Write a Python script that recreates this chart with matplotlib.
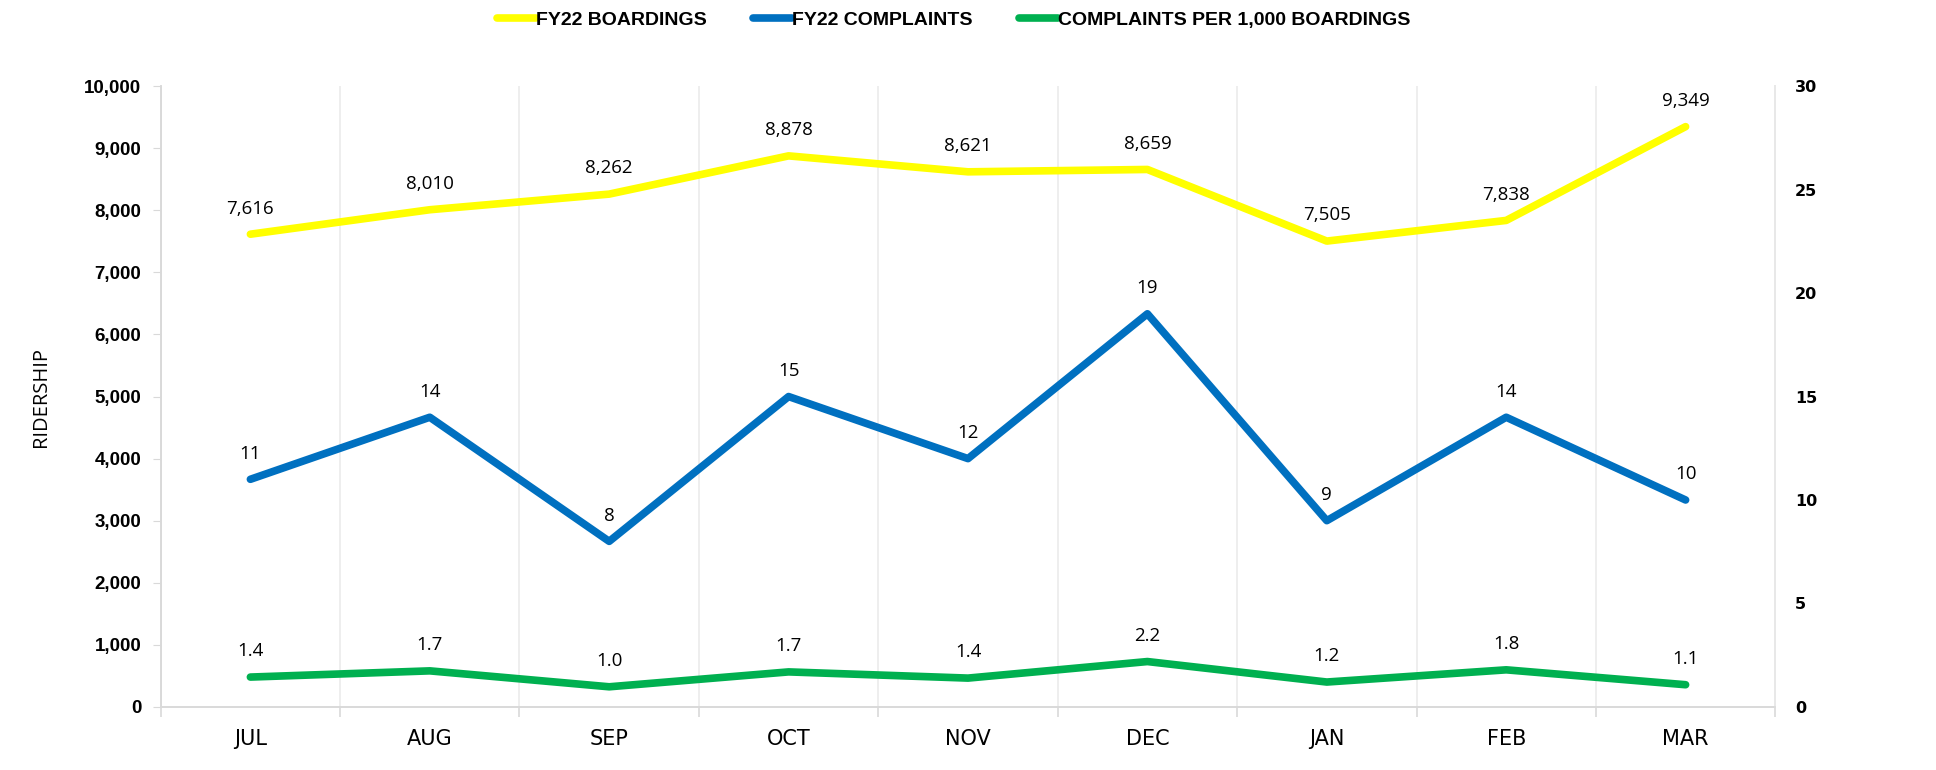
"""
FY22 boardings vs complaints, Jul-Mar, with complaints on a secondary axis.
"""

import matplotlib
matplotlib.use("Agg")
import matplotlib.pyplot as plt
from matplotlib.ticker import FuncFormatter, FixedLocator

months = ["JUL", "AUG", "SEP", "OCT", "NOV", "DEC", "JAN", "FEB", "MAR"]
boardings = [7616, 8010, 8262, 8878, 8621, 8659, 7505, 7838, 9349]
complaints = [11, 14, 8, 15, 12, 19, 9, 14, 10]
per_1000 = [1.44, 1.74, 0.97, 1.69, 1.39, 2.19, 1.20, 1.79, 1.07]

yellow = "#FFFF00"
blue = "#0070C0"
green = "#00B050"
grid_col = "#D9D9D9"

narrow = ["Liberation Sans Narrow", "Liberation Sans", "DejaVu Sans"]
label_font = ["Open Sans", "DejaVu Sans"]

fig = plt.figure(figsize=(19.36, 7.7), dpi=100)
ax = fig.add_axes([0.083, 0.082, 0.834, 0.806])
ax2 = ax.twinx()

x = list(range(len(months)))

l1, = ax.plot(x, boardings, color=yellow, lw=5.5, solid_capstyle="round", zorder=3)
l2, = ax2.plot(x, complaints, color=blue, lw=5.5, solid_capstyle="round", zorder=3)
l3, = ax2.plot(x, per_1000, color=green, lw=5.5, solid_capstyle="round", zorder=3)

# data labels
for i, v in enumerate(boardings):
    ax.annotate(f"{v:,}", (i, v), xytext=(0, 12), textcoords="offset points",
                ha="center", va="bottom", fontsize=13.5, family=label_font)
for i, v in enumerate(complaints):
    ax2.annotate(f"{v}", (i, v), xytext=(0, 12), textcoords="offset points",
                 ha="center", va="bottom", fontsize=13.5, family=label_font)
for i, v in enumerate(per_1000):
    ax2.annotate(f"{v:.1f}", (i, v), xytext=(0, 12), textcoords="offset points",
                 ha="center", va="bottom", fontsize=13.5, family=label_font)

ax.set_xlim(-0.5, len(months) - 0.5)
ax.set_ylim(0, 10000)
ax2.set_ylim(0, 30)
ax.set_yticks(range(0, 10001, 1000))
ax2.set_yticks(range(0, 31, 5))
ax.yaxis.set_major_formatter(FuncFormatter(lambda v, p: f"{int(v):,}"))

ax.set_xticks(x)
ax.set_xticklabels(months)
ax.xaxis.set_minor_locator(FixedLocator([i + 0.5 for i in range(-1, len(months))]))
ax.tick_params(axis="x", which="major", length=0, pad=16)
ax.tick_params(axis="x", which="minor", length=7, color=grid_col, width=1.2)
ax.grid(axis="x", which="minor", color="#EBEBEB", lw=1.2)
for lab in ax.get_xticklabels():
    lab.set_family("DejaVu Sans")
    lab.set_fontsize(15)

ax.tick_params(axis="y", length=6, color=grid_col, pad=8)
for lab in ax.get_yticklabels():
    lab.set_family(narrow)
    lab.set_fontweight("bold")
    lab.set_fontsize(13.5)
ax2.tick_params(axis="y", length=0, pad=14)
for lab in ax2.get_yticklabels():
    lab.set_family("DejaVu Sans")
    lab.set_fontweight("bold")
    lab.set_fontsize(11.5)

for a in (ax, ax2):
    for s in a.spines.values():
        s.set_color(grid_col)
        s.set_linewidth(1.2)
    a.spines["top"].set_visible(False)
ax2.spines["right"].set_color("#EBEBEB")

ax.set_ylabel("RIDERSHIP", fontsize=14.5, family=label_font, labelpad=24)

fig.legend([l1, l2, l3],
           ["FY22 BOARDINGS", "FY22 COMPLAINTS", "COMPLAINTS PER 1,000 BOARDINGS"],
           loc="upper center", bbox_to_anchor=(0.4925, 1.008), ncol=3, frameon=False,
           handlelength=2.0, handletextpad=0.0, columnspacing=2.4,
           prop={"family": narrow, "weight": "bold", "size": 14})

fig.savefig("out.png", dpi=100)
